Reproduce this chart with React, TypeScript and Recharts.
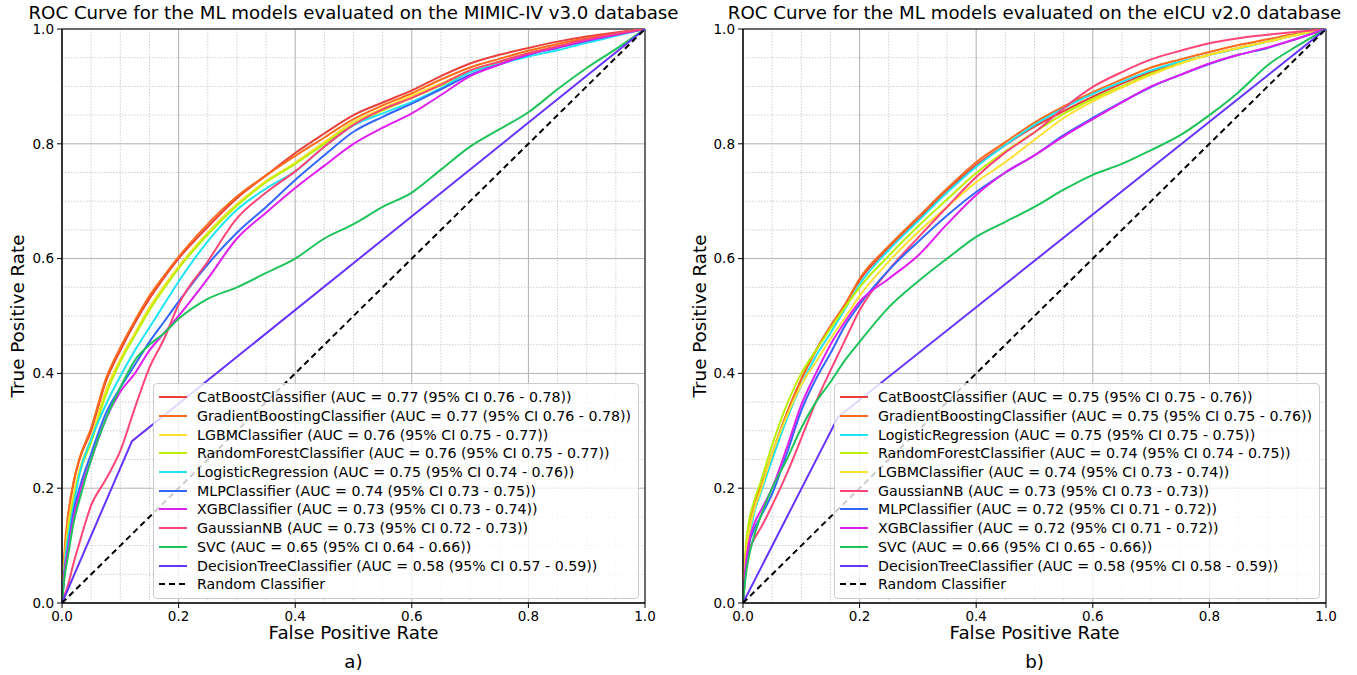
import { LineChart, Line, XAxis, YAxis, CartesianGrid, Legend, ReferenceArea } from 'recharts';

// false positive rate grid shared by the model curves
const FPR = [0, 0.005, 0.01, 0.02, 0.03, 0.05, 0.075, 0.1, 0.125, 0.15, 0.175, 0.2, 0.25, 0.3, 0.35, 0.4, 0.45, 0.5, 0.55, 0.6, 0.65, 0.7, 0.75, 0.8, 0.85, 0.9, 0.95, 1];

// MIMIC-IV v3.0 (true positive rates)
const mimicCatBoost = [0, 0.09, 0.145, 0.21, 0.25, 0.3, 0.385, 0.44, 0.488, 0.53, 0.567, 0.6, 0.655, 0.705, 0.745, 0.784, 0.818, 0.85, 0.872, 0.893, 0.918, 0.94, 0.955, 0.967, 0.978, 0.987, 0.994, 1];
const mimicGradient = [0, 0.1, 0.15, 0.212, 0.252, 0.305, 0.39, 0.445, 0.492, 0.535, 0.57, 0.603, 0.66, 0.708, 0.745, 0.779, 0.811, 0.843, 0.867, 0.888, 0.912, 0.933, 0.948, 0.962, 0.974, 0.984, 0.992, 1];
const mimicLgbm = [0, 0.08, 0.13, 0.19, 0.232, 0.288, 0.37, 0.425, 0.47, 0.515, 0.552, 0.586, 0.645, 0.695, 0.735, 0.767, 0.803, 0.838, 0.862, 0.884, 0.905, 0.928, 0.943, 0.958, 0.97, 0.981, 0.991, 1];
const mimicRf = [0, 0.07, 0.12, 0.18, 0.225, 0.28, 0.362, 0.42, 0.466, 0.51, 0.548, 0.583, 0.642, 0.692, 0.733, 0.765, 0.8, 0.834, 0.858, 0.88, 0.902, 0.925, 0.941, 0.956, 0.968, 0.98, 0.99, 1];
const mimicLr = [0, 0.07, 0.11, 0.17, 0.225, 0.285, 0.345, 0.395, 0.44, 0.48, 0.52, 0.56, 0.63, 0.685, 0.722, 0.752, 0.795, 0.832, 0.853, 0.873, 0.897, 0.925, 0.939, 0.952, 0.963, 0.976, 0.988, 1];
const mimicMlp = [0, 0.06, 0.095, 0.16, 0.2, 0.26, 0.33, 0.375, 0.415, 0.455, 0.49, 0.525, 0.59, 0.645, 0.69, 0.737, 0.78, 0.821, 0.847, 0.87, 0.895, 0.92, 0.938, 0.955, 0.967, 0.979, 0.99, 1];
const mimicXgb = [0, 0.06, 0.09, 0.15, 0.19, 0.25, 0.32, 0.368, 0.4, 0.44, 0.47, 0.5, 0.565, 0.635, 0.68, 0.723, 0.762, 0.8, 0.828, 0.853, 0.885, 0.918, 0.938, 0.956, 0.968, 0.98, 0.99, 1];
const mimicGnb = [0, 0.015, 0.03, 0.07, 0.105, 0.17, 0.215, 0.265, 0.34, 0.41, 0.46, 0.52, 0.595, 0.67, 0.715, 0.752, 0.795, 0.833, 0.86, 0.88, 0.903, 0.928, 0.943, 0.958, 0.97, 0.982, 0.992, 1];
const mimicSvc = [0, 0.05, 0.08, 0.14, 0.18, 0.25, 0.32, 0.375, 0.423, 0.45, 0.47, 0.495, 0.53, 0.55, 0.575, 0.6, 0.635, 0.66, 0.69, 0.715, 0.755, 0.795, 0.825, 0.855, 0.895, 0.932, 0.965, 1];
const mimicTreeFpr = [0, 0.12, 1];
const mimicTreeTpr = [0, 0.282, 1];

// eICU v2.0 (true positive rates)
const eicuCatBoost = [0, 0.09, 0.13, 0.175, 0.2, 0.26, 0.33, 0.39, 0.44, 0.482, 0.52, 0.562, 0.618, 0.668, 0.718, 0.763, 0.798, 0.83, 0.857, 0.882, 0.905, 0.925, 0.942, 0.955, 0.967, 0.978, 0.99, 1];
const eicuGradient = [0, 0.09, 0.135, 0.175, 0.2, 0.26, 0.33, 0.39, 0.44, 0.482, 0.52, 0.565, 0.622, 0.672, 0.722, 0.768, 0.803, 0.837, 0.865, 0.89, 0.912, 0.933, 0.947, 0.96, 0.972, 0.982, 0.992, 1];
const eicuLr = [0, 0.07, 0.11, 0.16, 0.19, 0.25, 0.32, 0.38, 0.43, 0.47, 0.512, 0.555, 0.615, 0.665, 0.715, 0.76, 0.798, 0.833, 0.862, 0.887, 0.908, 0.928, 0.943, 0.955, 0.966, 0.978, 0.99, 1];
const eicuRf = [0, 0.1, 0.14, 0.18, 0.21, 0.275, 0.345, 0.4, 0.44, 0.478, 0.515, 0.55, 0.605, 0.656, 0.703, 0.749, 0.787, 0.82, 0.852, 0.878, 0.9, 0.922, 0.94, 0.955, 0.967, 0.978, 0.99, 1];
const eicuLgbm = [0, 0.08, 0.12, 0.165, 0.195, 0.26, 0.325, 0.38, 0.42, 0.46, 0.497, 0.535, 0.595, 0.646, 0.69, 0.733, 0.768, 0.807, 0.845, 0.874, 0.898, 0.92, 0.94, 0.955, 0.967, 0.978, 0.99, 1];
const eicuGnb = [0, 0.06, 0.09, 0.113, 0.13, 0.17, 0.225, 0.287, 0.35, 0.405, 0.458, 0.51, 0.58, 0.636, 0.69, 0.742, 0.785, 0.82, 0.862, 0.899, 0.925, 0.947, 0.962, 0.975, 0.984, 0.99, 0.995, 1];
const eicuMlp = [0, 0.06, 0.1, 0.13, 0.15, 0.19, 0.26, 0.335, 0.39, 0.435, 0.483, 0.52, 0.58, 0.629, 0.675, 0.716, 0.75, 0.78, 0.815, 0.845, 0.873, 0.899, 0.92, 0.939, 0.955, 0.967, 0.983, 1];
const eicuXgb = [0, 0.07, 0.105, 0.14, 0.16, 0.2, 0.27, 0.345, 0.4, 0.45, 0.49, 0.525, 0.565, 0.605, 0.66, 0.711, 0.75, 0.78, 0.813, 0.843, 0.872, 0.9, 0.92, 0.94, 0.955, 0.968, 0.983, 1];
const eicuSvc = [0, 0.05, 0.08, 0.12, 0.15, 0.2, 0.25, 0.305, 0.35, 0.385, 0.423, 0.455, 0.515, 0.56, 0.6, 0.638, 0.664, 0.69, 0.72, 0.746, 0.765, 0.789, 0.815, 0.85, 0.89, 0.937, 0.97, 1];
const eicuTreeFpr = [0, 0.163, 1];
const eicuTreeTpr = [0, 0.324, 1];

const DIAGONAL = [0, 1];

const MAJOR_TICKS = [0, 0.2, 0.4, 0.6, 0.8, 1];
const MINOR_TICKS = [0.05, 0.1, 0.15, 0.25, 0.3, 0.35, 0.45, 0.5, 0.55, 0.65, 0.7, 0.75, 0.85, 0.9, 0.95];

const COLORS = {
  catboost: '#e8413c',
  gradient: '#ff6b1a',
  lgbm: '#ffe033',
  rf: '#bbf000',
  lr: '#1ee3f0',
  mlp: '#3366ff',
  xgb: '#e01ef0',
  gnb: '#ff4477',
  svc: '#1ec35a',
  tree: '#6633ff',
};

const FONT = '"DejaVu Sans", sans-serif';

interface Series {
  name: string;
  color: string;
  fpr: number[];
  tpr: number[];
  straight?: boolean;
  dashed?: boolean;
}

const toPoints = (fpr: number[], tpr: number[]) => fpr.map((x, i) => ({ fpr: x, tpr: tpr[i] }));

const mimicSeries: Series[] = [
  { name: 'CatBoostClassifier (AUC = 0.77 (95% CI 0.76 - 0.78))', color: COLORS.catboost, fpr: FPR, tpr: mimicCatBoost },
  { name: 'GradientBoostingClassifier (AUC = 0.77 (95% CI 0.76 - 0.78))', color: COLORS.gradient, fpr: FPR, tpr: mimicGradient },
  { name: 'LGBMClassifier (AUC = 0.76 (95% CI 0.75 - 0.77))', color: COLORS.lgbm, fpr: FPR, tpr: mimicLgbm },
  { name: 'RandomForestClassifier (AUC = 0.76 (95% CI 0.75 - 0.77))', color: COLORS.rf, fpr: FPR, tpr: mimicRf },
  { name: 'LogisticRegression (AUC = 0.75 (95% CI 0.74 - 0.76))', color: COLORS.lr, fpr: FPR, tpr: mimicLr },
  { name: 'MLPClassifier (AUC = 0.74 (95% CI 0.73 - 0.75))', color: COLORS.mlp, fpr: FPR, tpr: mimicMlp },
  { name: 'XGBClassifier (AUC = 0.73 (95% CI 0.73 - 0.74))', color: COLORS.xgb, fpr: FPR, tpr: mimicXgb },
  { name: 'GaussianNB (AUC = 0.73 (95% CI 0.72 - 0.73))', color: COLORS.gnb, fpr: FPR, tpr: mimicGnb },
  { name: 'SVC (AUC = 0.65 (95% CI 0.64 - 0.66))', color: COLORS.svc, fpr: FPR, tpr: mimicSvc },
  { name: 'DecisionTreeClassifier (AUC = 0.58 (95% CI 0.57 - 0.59))', color: COLORS.tree, fpr: mimicTreeFpr, tpr: mimicTreeTpr, straight: true },
  { name: 'Random Classifier', color: '#000000', fpr: DIAGONAL, tpr: DIAGONAL, straight: true, dashed: true },
];

const eicuSeries: Series[] = [
  { name: 'CatBoostClassifier (AUC = 0.75 (95% CI 0.75 - 0.76))', color: COLORS.catboost, fpr: FPR, tpr: eicuCatBoost },
  { name: 'GradientBoostingClassifier (AUC = 0.75 (95% CI 0.75 - 0.76))', color: COLORS.gradient, fpr: FPR, tpr: eicuGradient },
  { name: 'LogisticRegression (AUC = 0.75 (95% CI 0.75 - 0.75))', color: COLORS.lr, fpr: FPR, tpr: eicuLr },
  { name: 'RandomForestClassifier (AUC = 0.74 (95% CI 0.74 - 0.75))', color: COLORS.rf, fpr: FPR, tpr: eicuRf },
  { name: 'LGBMClassifier (AUC = 0.74 (95% CI 0.73 - 0.74))', color: COLORS.lgbm, fpr: FPR, tpr: eicuLgbm },
  { name: 'GaussianNB (AUC = 0.73 (95% CI 0.73 - 0.73))', color: COLORS.gnb, fpr: FPR, tpr: eicuGnb },
  { name: 'MLPClassifier (AUC = 0.72 (95% CI 0.71 - 0.72))', color: COLORS.mlp, fpr: FPR, tpr: eicuMlp },
  { name: 'XGBClassifier (AUC = 0.72 (95% CI 0.71 - 0.72))', color: COLORS.xgb, fpr: FPR, tpr: eicuXgb },
  { name: 'SVC (AUC = 0.66 (95% CI 0.65 - 0.66))', color: COLORS.svc, fpr: FPR, tpr: eicuSvc },
  { name: 'DecisionTreeClassifier (AUC = 0.58 (95% CI 0.58 - 0.59))', color: COLORS.tree, fpr: eicuTreeFpr, tpr: eicuTreeTpr, straight: true },
  { name: 'Random Classifier', color: '#000000', fpr: DIAGONAL, tpr: DIAGONAL, straight: true, dashed: true },
];

function LegendBox({ series }: { series: Series[] }) {
  return (
    <div
      style={{
        width: 486,
        boxSizing: 'border-box',
        padding: '4px 0 4px 0',
        background: 'rgba(255,255,255,0.8)',
        border: '1px solid #cccccc',
        borderRadius: 4,
        fontFamily: FONT,
        fontSize: 14.2,
        color: '#000',
      }}
    >
      {series.map((s) => (
        <div key={s.name} style={{ display: 'flex', alignItems: 'center', height: 18.7, whiteSpace: 'nowrap' }}>
          <svg width={43} height={10} style={{ flex: 'none' }}>
            <line
              x1={5}
              x2={33}
              y1={5}
              y2={5}
              stroke={s.color}
              strokeWidth={2}
              strokeDasharray={s.dashed ? '6 4' : undefined}
            />
          </svg>
          <span>{s.name}</span>
        </div>
      ))}
    </div>
  );
}

const fmt = (v: number) => v.toFixed(1);

function RocPanel({ series, left, width, marginLeft, marginRight }: { series: Series[]; left: number; width: number; marginLeft: number; marginRight: number }) {
  return (
    <div style={{ position: 'absolute', left, top: 0 }}>
      <LineChart width={width} height={675} margin={{ top: 29, right: marginRight, bottom: 42, left: marginLeft }}>
        <CartesianGrid
          horizontalValues={MINOR_TICKS}
          verticalValues={MINOR_TICKS}
          stroke="#cfcfcf"
          strokeDasharray="1.5 1.5"
        />
        <CartesianGrid horizontalValues={MAJOR_TICKS} verticalValues={MAJOR_TICKS} stroke="#b0b0b0" />
        <XAxis
          type="number"
          dataKey="fpr"
          domain={[0, 1]}
          ticks={MAJOR_TICKS}
          tickFormatter={fmt}
          allowDataOverflow
          height={30}
          tickSize={5}
          tickMargin={3}
          axisLine={{ stroke: '#000' }}
          tickLine={{ stroke: '#000' }}
          tick={{ fontSize: 13.5, fill: '#000', fontFamily: FONT }}
        />
        <YAxis
          type="number"
          domain={[0, 1]}
          ticks={MAJOR_TICKS}
          tickFormatter={fmt}
          allowDataOverflow
          width={40}
          tickSize={5}
          tickMargin={3}
          axisLine={{ stroke: '#000' }}
          tickLine={{ stroke: '#000' }}
          tick={{ fontSize: 13.5, fill: '#000', fontFamily: FONT }}
        />
        {series.map((s) => (
          <Line
            key={s.name}
            data={toPoints(s.fpr, s.tpr)}
            dataKey="tpr"
            type={s.straight ? 'linear' : 'monotoneX'}
            stroke={s.color}
            strokeWidth={2}
            strokeDasharray={s.dashed ? '6 4' : undefined}
            dot={false}
            activeDot={false}
            isAnimationActive={false}
          />
        ))}
        <ReferenceArea x1={0} x2={1} y1={0} y2={1} fill="none" stroke="#000" strokeWidth={1} />
        <Legend
          layout="vertical"
          align="center"
          verticalAlign="middle"
          content={() => <LegendBox series={series} />}
          wrapperStyle={{ left: marginLeft + 40 + 91, top: 383, width: 486 }}
        />
      </LineChart>
    </div>
  );
}

const textStyle = { position: 'absolute' as const, fontFamily: FONT, color: '#000', whiteSpace: 'nowrap' as const };

function Caption({ text, cx, cy, size, rotate }: { text: string; cx: number; cy: number; size: number; rotate?: boolean }) {
  return (
    <div
      style={{
        ...textStyle,
        left: cx,
        top: cy,
        fontSize: size,
        lineHeight: 1,
        transform: `translate(-50%, -50%)${rotate ? ' rotate(-90deg)' : ''}`,
      }}
    >
      {text}
    </div>
  );
}

export default function App() {
  return (
    <div style={{ position: 'absolute', left: 0, top: 0, width: 1357, height: 675, background: '#fff', overflow: 'hidden' }}>
      <RocPanel series={mimicSeries} left={0} width={680} marginLeft={22} marginRight={35} />
      <RocPanel series={eicuSeries} left={680} width={677} marginLeft={23} marginRight={31} />
      <Caption text="ROC Curve for the ML models evaluated on the MIMIC-IV v3.0 database" cx={353.5} cy={13} size={18.2} />
      <Caption text="ROC Curve for the ML models evaluated on the eICU v2.0 database" cx={1034.5} cy={13} size={18.2} />
      <Caption text="True Positive Rate" cx={18} cy={316} size={18.3} rotate />
      <Caption text="True Positive Rate" cx={700} cy={316} size={18.3} rotate />
      <Caption text="False Positive Rate" cx={353.5} cy={633} size={18.3} />
      <Caption text="False Positive Rate" cx={1034.5} cy={633} size={18.3} />
      <Caption text="a)" cx={353.5} cy={662} size={18.3} />
      <Caption text="b)" cx={1034.5} cy={662} size={18.3} />
    </div>
  );
}
